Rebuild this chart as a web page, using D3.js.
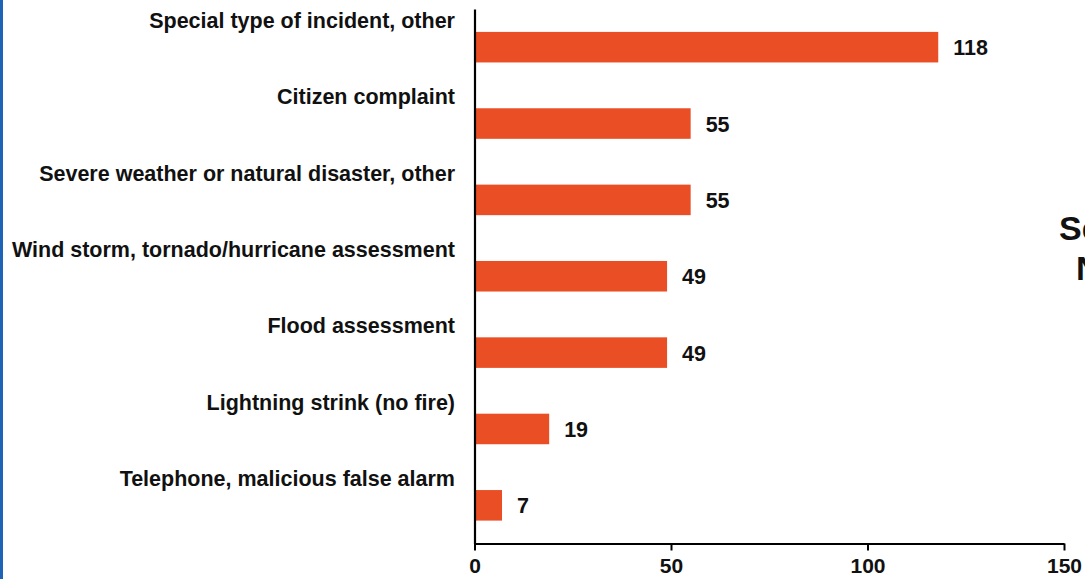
<!DOCTYPE html>
<html>
<head>
<meta charset="utf-8">
<script src="https://cdn.jsdelivr.net/npm/d3@7"></script>
<style>
  html, body { margin: 0; padding: 0; background: #fff; overflow: hidden; }
  svg { display: block; }
  text { font-family: "Liberation Sans", Arial, sans-serif; font-weight: bold; fill: #111; }
</style>
</head>
<body>
<svg id="chart" width="1085" height="579"></svg>
<script>
const categories = [
  "Special type of incident, other",
  "Citizen complaint",
  "Severe weather or natural disaster, other",
  "Wind storm, tornado/hurricane assessment",
  "Flood assessment",
  "Lightning strink (no fire)",
  "Telephone, malicious false alarm"
];
const values = [118, 55, 55, 49, 49, 19, 7];
const xTicks = [0, 50, 100, 150];
const titleLines = ["Se", "N"];

const svg = d3.select("#chart");
const W = 1085, H = 579;

// left blue border
svg.append("rect").attr("x", 0).attr("y", 0).attr("width", 3).attr("height", H).attr("fill", "#1F63B6");

const x = d3.scaleLinear().domain([0, 150]).range([474.5, 1064]);
const y = d3.scaleBand().domain(categories).range([9, 543.5]).padding(0);
const barH = y.bandwidth() * 0.4;

// bars
svg.append("g").selectAll("rect").data(values).join("rect")
  .attr("x", x(0))
  .attr("y", (d, i) => y(categories[i]) + (y.bandwidth() - barH) / 2)
  .attr("width", d => x(d) - x(0))
  .attr("height", barH)
  .attr("fill", "#E94E24");

// category labels (above bars)
svg.append("g").selectAll("text").data(categories).join("text")
  .attr("x", 455)
  .attr("y", d => y(d) + 19)
  .attr("text-anchor", "end")
  .attr("font-size", "21.5px")
  .text(d => d);

// value labels
svg.append("g").selectAll("text").data(values).join("text")
  .attr("x", d => x(d) + 15)
  .attr("y", (d, i) => y(categories[i]) + y.bandwidth() / 2 + 8)
  .attr("font-size", "21.5px")
  .text(d => d);

// x axis
const xAxis = d3.axisBottom(x).tickValues(xTicks).tickSize(7).tickPadding(8).tickSizeOuter(0);
const gx = svg.append("g").attr("transform", `translate(0,543.5)`).call(xAxis);
gx.select(".domain").attr("stroke", "#000").attr("stroke-width", 2.2);
gx.selectAll(".tick line").attr("stroke", "#000").attr("stroke-width", 2);
gx.selectAll(".tick text")
  .attr("font-size", "21px")
  .attr("font-family", "Liberation Sans, Arial, sans-serif")
  .attr("font-weight", "bold")
  .attr("fill", "#111");

// y axis line
const yAxis = d3.axisLeft(y).tickSize(0).tickFormat("");
const gy = svg.append("g").attr("transform", `translate(${x(0)},0)`).call(yAxis);
gy.select(".domain").attr("stroke", "#000").attr("stroke-width", 2.2);
gy.selectAll(".tick").remove();

// clipped title at right edge
svg.append("text").attr("x", 1059).attr("y", 240).attr("font-size", "34px").text(titleLines[0]);
svg.append("text").attr("x", 1076).attr("y", 280).attr("font-size", "34px").text(titleLines[1]);
</script>
</body>
</html>
